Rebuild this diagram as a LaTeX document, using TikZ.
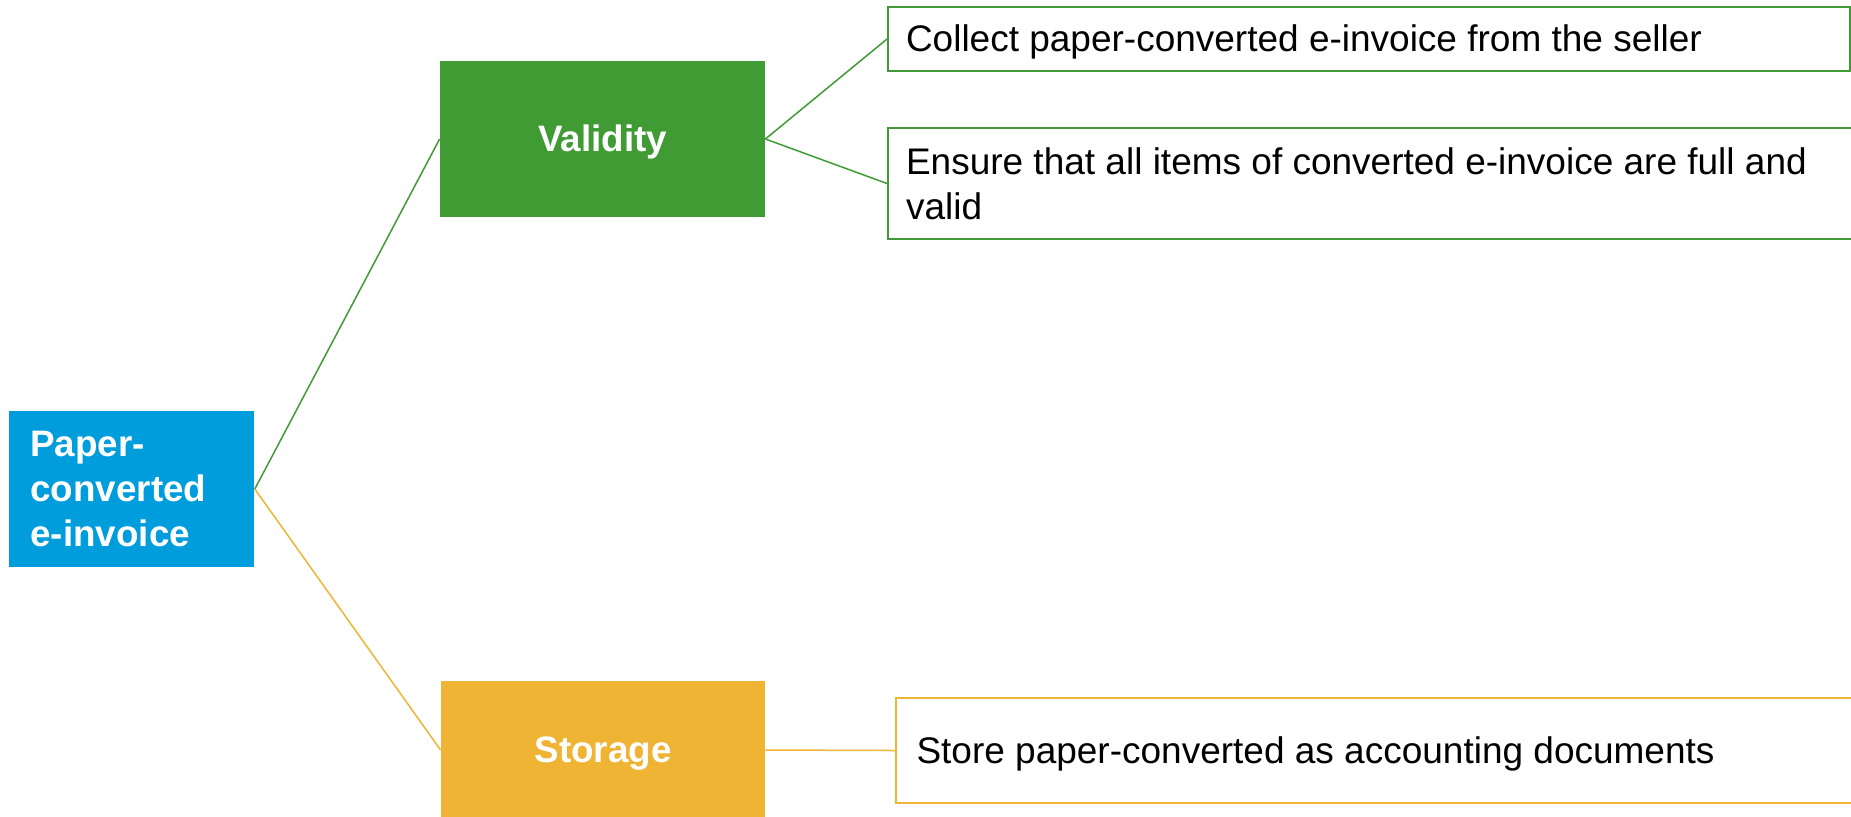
\documentclass[tikz,border=0pt]{standalone}
\usepackage{fontspec}
\setmainfont{Liberation Sans}
\definecolor{hubblue}{RGB}{0,157,220}
\definecolor{leafgreen}{RGB}{64,155,53}
\definecolor{leaforange}{RGB}{240,180,52}
\tikzset{
  txt/.style={font=\fontsize{18.5pt}{22.5pt}\selectfont},
  oneline/.style={text height=16.6pt, text depth=3.9pt},
  hub/.style={fill=#1, draw=none, text=white, font=\fontsize{18.4pt}{22.5pt}\selectfont\bfseries, inner sep=0pt},
  leaf/.style={txt, draw=#1, line width=1pt, fill=white, text=black, anchor=west, align=flush left, inner ysep=0pt},
  link/.style={draw=#1, line width=0.75pt}
}
\begin{document}
\begin{tikzpicture}[x=0.5pt,y=-0.5pt]
  \useasboundingbox (0,0) rectangle (1851,816);
  \clip (0,0) rectangle (1851,816);

  % root topic
  \node[hub=hubblue, anchor=west, minimum width=122.5pt, minimum height=78pt,
        text width=101.5pt, inner xsep=10.5pt, align=flush left] (root) at (9,489)
        {Paper-\\converted\\e-invoice};

  % second level
  \node[hub=leafgreen, oneline, minimum width=162.5pt, minimum height=78pt] (valid) at (602.5,139) {Validity};
  \node[hub=leaforange, oneline, minimum width=162pt, minimum height=69pt] (store) at (603,750) {Storage};

  % detail boxes
  \node[leaf=leafgreen, oneline, minimum height=32pt, text width=463pt, inner xsep=9pt] (collect) at (887,39)
        {Collect paper-converted e-invoice from the seller};
  \node[leaf=leafgreen, minimum height=55.5pt, text width=488.5pt, inner xsep=9pt] (ensure) at (887,183.5)
        {Ensure that all items of converted e-invoice are full and\\valid};
  \node[leaf=leaforange, oneline, minimum height=52.5pt, text width=482pt, inner xsep=10.25pt] (keep) at (895,750.5)
        {Store paper-converted as accounting documents};

  % connectors
  \draw[link=leafgreen] (root.east) -- (valid.west);
  \draw[link=leaforange] (root.east) -- (store.west);
  \draw[link=leafgreen] (valid.east) -- (collect.west);
  \draw[link=leafgreen] (valid.east) -- (ensure.west);
  \draw[link=leaforange] (store.east) -- (keep.west);
\end{tikzpicture}
\end{document}
